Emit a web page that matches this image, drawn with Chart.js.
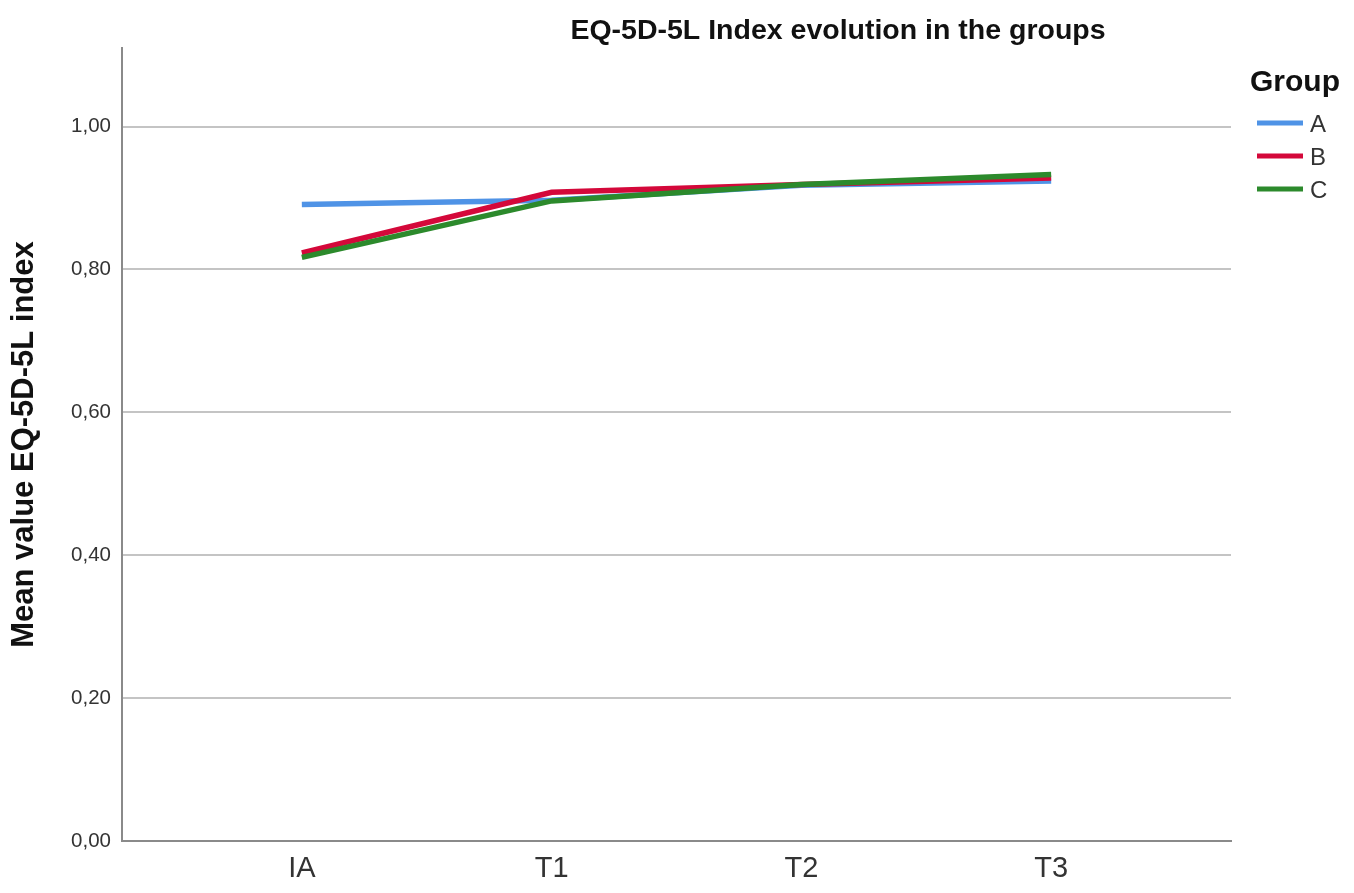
<!DOCTYPE html>
<html>
<head>
<meta charset="utf-8">
<script src="https://cdn.jsdelivr.net/npm/chart.js@4/dist/chart.umd.min.js"></script>
<style>
  html, body { margin: 0; padding: 0; background: #fff; }
  #wrap { width: 1354px; height: 893px; }
</style>
</head>
<body>
<div id="wrap"><canvas id="myChart" width="1354" height="893"></canvas></div>
<script>
var categories = ["IA", "T1", "T2", "T3"];
var groupNames = ["A", "B", "C"];
var groupA = [0.891, 0.897, 0.918, 0.924];
var groupB = [0.823, 0.908, 0.919, 0.928];
var groupC = [0.817, 0.896, 0.919, 0.933];
var lineColors = ["#4f93e6", "#d4083a", "#2c8a2c"];
var yTicks = [0, 0.2, 0.4, 0.6, 0.8, 1.0];

var chartTitle = "EQ-5D-5L Index evolution in the groups";
var yTitle = "Mean value EQ-5D-5L index";
var legendTitle = "Group";

function toPoints(arr) {
  return arr.map(function (v, i) { return { x: i, y: v }; });
}

var seriesList = [groupA, groupB, groupC];
var datasets = seriesList.map(function (s, i) {
  return {
    label: groupNames[i],
    data: toPoints(s),
    borderColor: lineColors[i],
    backgroundColor: lineColors[i],
    borderWidth: 5.5,
    pointRadius: 0,
    tension: 0,
    order: seriesList.length - i
  };
});

// title and legend drawn as text on the canvas
var textPlugin = {
  id: "textPlugin",
  afterDraw: function (chart) {
    var ctx = chart.ctx;
    ctx.save();
    ctx.fillStyle = "#111";
    ctx.textBaseline = "middle";
    ctx.textAlign = "center";
    ctx.font = "bold 28.5px 'Liberation Sans', Arial, sans-serif";
    ctx.fillText(chartTitle, 838, 31);

    ctx.textAlign = "left";
    ctx.font = "bold 30px 'Liberation Sans', Arial, sans-serif";
    ctx.fillText(legendTitle, 1250, 83);

    chart.data.datasets.forEach(function (ds, i) {
      var y = 123 + i * 33;
      ctx.strokeStyle = ds.borderColor;
      ctx.lineWidth = 5;
      ctx.beginPath();
      ctx.moveTo(1257, y);
      ctx.lineTo(1303, y);
      ctx.stroke();
      ctx.fillStyle = "#333";
      ctx.font = "24px 'Liberation Sans', Arial, sans-serif";
      ctx.fillText(ds.label, 1310, y + 2);
    });
    ctx.restore();
  }
};

new Chart("myChart", {
  type: "line",
  data: { datasets: datasets },
  plugins: [textPlugin],
  options: {
    responsive: false,
    animation: false,
    layout: { padding: { top: 48, right: 123, left: 0, bottom: 0 } },
    plugins: {
      legend: { display: false },
      title: { display: false },
      tooltip: { enabled: false }
    },
    scales: {
      x: {
        type: "linear",
        min: -0.72,
        max: 3.72,
        afterFit: function (scale) { scale.height = 52; },
        grid: { display: false, drawTicks: false },
        border: { color: "#8a8a8a", width: 2 },
        ticks: {
          stepSize: 1,
          includeBounds: false,
          padding: 11,
          color: "#333",
          font: { size: 29, family: "'Liberation Sans', Arial, sans-serif" },
          callback: function (v) { return categories[v] !== undefined ? categories[v] : ""; }
        }
      },
      y: {
        min: 0,
        max: 1.11,
        afterFit: function (scale) { scale.width = 122; },
        afterBuildTicks: function (scale) {
          scale.ticks = yTicks.map(function (v) { return { value: v }; });
        },
        grid: { color: "#c4c4c4", lineWidth: 2, drawTicks: false },
        border: { color: "#8a8a8a", width: 2 },
        ticks: {
          padding: 11,
          color: "#333",
          font: { size: 20.5, family: "'Liberation Sans', Arial, sans-serif" },
          callback: function (v) { return v.toFixed(2).replace(".", ","); }
        },
        title: {
          display: true,
          text: yTitle,
          color: "#111",
          padding: { top: 6, bottom: 0 },
          font: { size: 31, weight: "bold", family: "'Liberation Sans', Arial, sans-serif" }
        }
      }
    }
  }
});
</script>
</body>
</html>
